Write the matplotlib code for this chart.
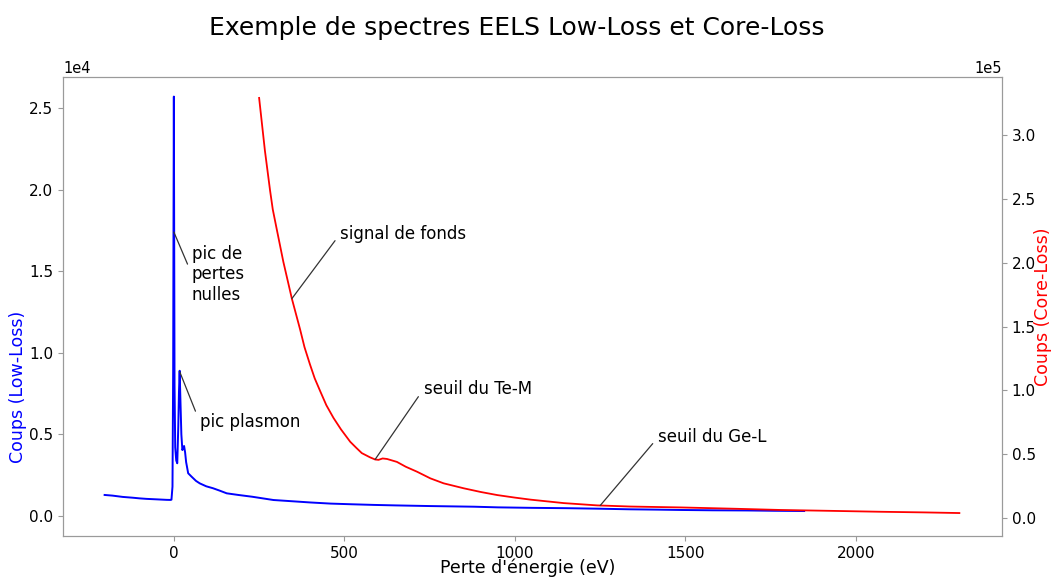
import matplotlib
matplotlib.use("Agg")
import matplotlib.pyplot as plt

# Low-loss spectrum (blue) : energy (eV) and counts
low_energy = [-203, -180, -150, -120, -100, -80, -50, -21, -10, -7, -4, -2, -1, 0, 1, 2, 4, 7, 10,
              13, 15, 17, 19, 22, 25, 28, 30, 33, 36, 42, 52, 65, 76, 95, 115, 135, 155, 189,
              230, 292, 350, 400, 460, 520, 586, 650, 750, 880, 950, 1050, 1150, 1241, 1339,
              1420, 1486, 1580, 1680, 1760, 1848]
low_counts = [1290, 1250, 1170, 1120, 1080, 1050, 1020, 990, 985, 1000, 1800, 9000, 18000, 25700,
              17000, 8000, 4200, 3400, 3230, 5500, 7600, 8900, 7300, 5000, 4040, 4200, 4290, 3900,
              3300, 2620, 2410, 2150, 2000, 1820, 1700, 1550, 1390, 1290, 1180, 980, 900, 830,
              760, 720, 680, 650, 610, 570, 530, 500, 480, 450, 410, 390, 370, 350, 340, 320, 306]

# Core-loss spectrum (red) : energy (eV) and counts
core_energy = [250, 260, 267, 282, 290, 302, 321, 346, 370, 383, 399, 413, 429, 447, 468, 490,
               517, 535, 551, 575, 590, 600, 612, 625, 654, 680, 713, 752, 791, 850, 900, 948,
               1000, 1046, 1100, 1143, 1241, 1339, 1486, 1640, 1780, 1930, 2073, 2200, 2303]
core_counts = [329400, 305000, 288000, 257000, 242000, 226000, 200900, 172000, 148000, 134000,
               120500, 109500, 99500, 88500, 78500, 69500, 59800, 55000, 50900, 47600, 45900,
               45600, 46700, 46300, 44000, 40200, 36300, 31100, 27200, 23300, 20400, 18000,
               16000, 14400, 12900, 11700, 9900, 9000, 8300, 7300, 6300, 5600, 4900, 4400, 3900]

title = "Exemple de spectres EELS Low-Loss et Core-Loss"
xlabel = "Perte d'énergie (eV)"
ylabel_left = "Coups (Low-Loss)"
ylabel_right = "Coups (Core-Loss)"

W, H = 1055, 577
fig = plt.figure(figsize=(W / 100, H / 100), dpi=100)
ax = fig.add_axes([63 / W, 1 - 536 / H, (1002 - 63) / W, (536 - 77) / H])
ax2 = ax.twinx()

ax.plot(low_energy, low_counts, color="blue", lw=1.4)
ax2.plot(core_energy, core_counts, color="red", lw=1.3)

ax.set_xlim(-325, 2428)
ax.set_ylim(-1225, 26900)
ax2.set_ylim(-14100, 345800)
ax.set_xticks([0, 500, 1000, 1500, 2000])
ax.set_yticks([0, 5000, 10000, 15000, 20000, 25000])
ax2.set_yticks([0, 50000, 100000, 150000, 200000, 250000, 300000])
ax.ticklabel_format(axis="y", style="sci", scilimits=(0, 0))
ax2.ticklabel_format(axis="y", style="sci", scilimits=(0, 0))

spine_col = "#9a9a9a"
for a in (ax, ax2):
    for s in a.spines.values():
        s.set_color(spine_col)
    a.tick_params(colors=spine_col, labelcolor="black", labelsize=11)
    a.yaxis.get_offset_text().set_fontsize(10.5)

ax.set_xlabel(xlabel, fontsize=12.5)
ax.xaxis.set_label_coords((527.5 - 63) / 939, -0.05)
ax.set_ylabel(ylabel_left, fontsize=12.5, color="blue")
ax.yaxis.set_label_coords((27 - 63) / 939, (536 - 387) / 459)
ax2.set_ylabel(ylabel_right, fontsize=12.5, color="red")
ax2.yaxis.set_label_coords((1034 - 63) / 939, (536 - 307) / 459)

fig.text(516.5 / W, 1 - 28 / H, title, fontsize=18, ha="center", va="center")

aprops = dict(arrowstyle="-", color="#333333", lw=0.9, relpos=(0, 0.5), shrinkA=3, shrinkB=0)
ax.annotate("pic de\npertes\nnulles", xy=(0, 17400), xytext=(53, 14800),
            ha="left", va="center", fontsize=12, arrowprops=aprops)
ax.annotate("pic plasmon", xy=(17, 8850), xytext=(76, 5760),
            ha="left", va="center", fontsize=12, arrowprops=aprops)
ax2.annotate("signal de fonds", xy=(346, 172000), xytext=(488, 223000),
             ha="left", va="center", fontsize=12, arrowprops=aprops)
ax2.annotate("seuil du Te-M", xy=(590, 45900), xytext=(732, 101000),
             ha="left", va="center", fontsize=12, arrowprops=aprops)
ax2.annotate("seuil du Ge-L", xy=(1250, 9800), xytext=(1420, 63400),
             ha="left", va="center", fontsize=12, arrowprops=aprops)

fig.savefig("out.png", dpi=100)
